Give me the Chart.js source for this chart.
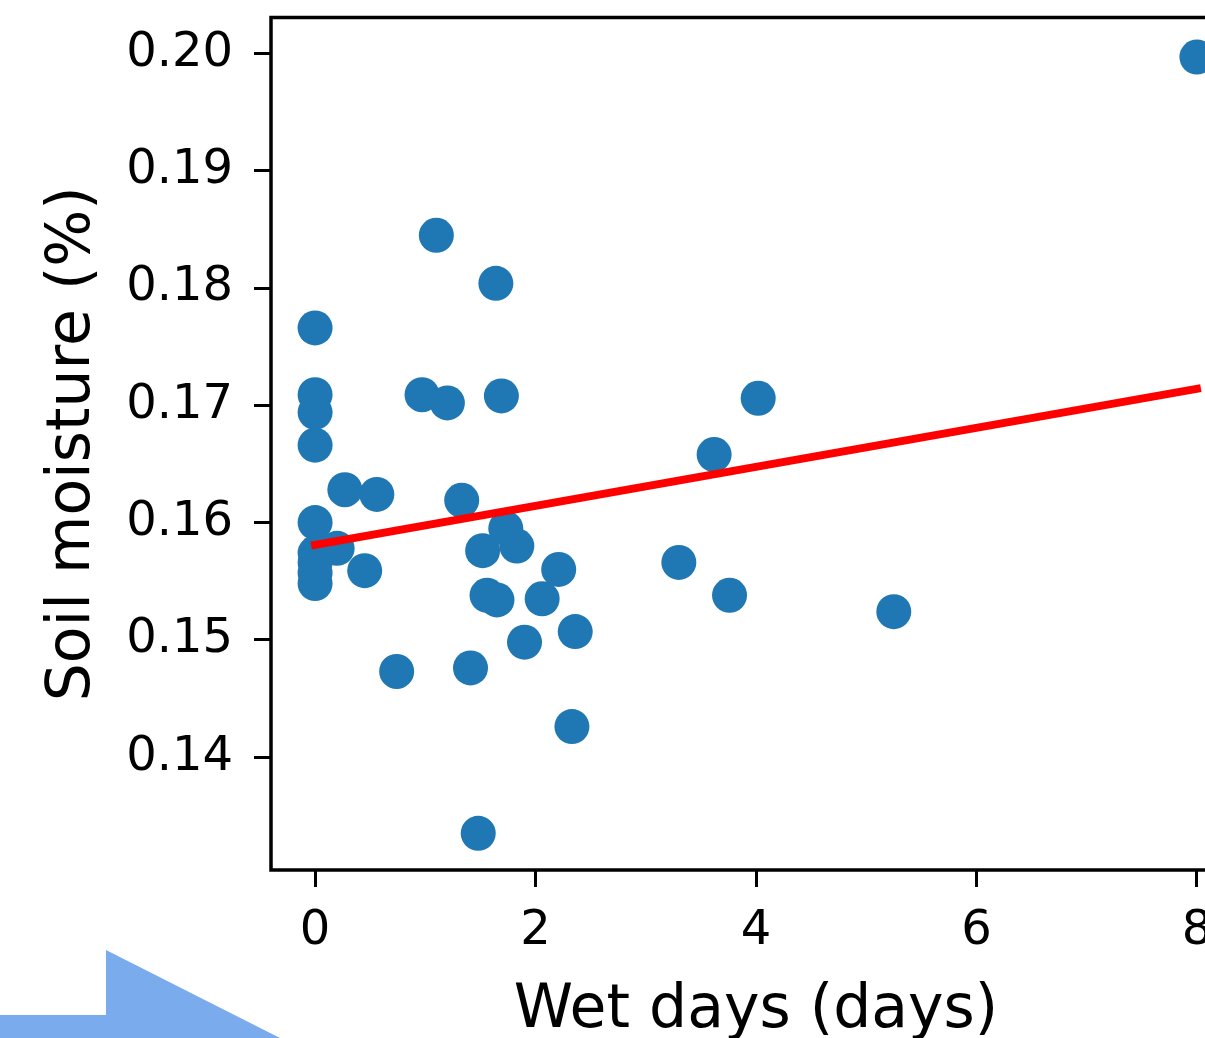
<!DOCTYPE html>
<html>
<head>
<meta charset="utf-8">
<script src="https://cdn.jsdelivr.net/npm/chart.js@4.4.1/dist/chart.umd.min.js"></script>
<style>
  html, body { margin: 0; padding: 0; background: #fff; overflow: hidden; width: 1205px; height: 1038px; }
  #wrap { position: absolute; left: 0; top: 0; width: 1300px; height: 1038px; }
  #arrow { position: absolute; left: 0; top: 0; width: 1205px; height: 1038px; pointer-events: none; }
</style>
</head>
<body>
<div id="wrap"><canvas id="c" width="1300" height="1038"></canvas></div>
<svg id="arrow" width="1205" height="1038"><polygon points="0,1015 106,1015 106,950 280,1038 0,1038" fill="rgb(122,171,236)"/></svg>
<script>
// Data
const wetDays = [0, 0, 0, 0, 0, 0, 0, 0, 0, 0.20, 0.27, 0.56, 0.45, 0.74, 1.41, 1.48, 1.33, 1.52, 1.73, 1.83, 1.56, 1.65, 2.06, 2.21, 1.90, 2.36, 2.33, 1.10, 1.64, 0.97, 1.20, 1.69, 3.30, 3.76, 3.62, 4.02, 5.25, 8.00];
const soilMoisture = [0.1766, 0.1709, 0.1694, 0.1666, 0.1600, 0.1574, 0.1566, 0.1557, 0.1548, 0.1578, 0.1628, 0.1624, 0.1559, 0.1473, 0.1476, 0.1335, 0.1619, 0.1576, 0.1595, 0.1580, 0.1538, 0.1534, 0.1535, 0.1560, 0.1498, 0.1507, 0.1426, 0.1845, 0.1804, 0.1709, 0.1702, 0.1708, 0.1566, 0.1538, 0.1658, 0.1706, 0.1524, 0.1997];
const fitX = [0, 8];
const fitY = [0.1581, 0.1714];
const xTicks = [0, 2, 4, 6, 8];
const yTicks = [0.14, 0.15, 0.16, 0.17, 0.18, 0.19, 0.20];
const xLabel = 'Wet days (days)';
const yLabel = 'Soil moisture (%)';

const scatterData = wetDays.map((x, i) => ({ x: x, y: soilMoisture[i] }));
const lineData = fitX.map((x, i) => ({ x: x, y: fitY[i] }));

const framePlugin = {
  id: 'frame',
  afterDatasetsDraw(chart) {
    const { ctx, chartArea: a } = chart;
    ctx.save();
    ctx.strokeStyle = '#000';
    ctx.lineWidth = 3.5;
    ctx.strokeRect(a.left, a.top, a.right - a.left, a.bottom - a.top);
    ctx.restore();
  }
};

const tickFont = { family: 'DejaVu Sans', size: 48 };
const xTitleFont = { family: 'DejaVu Sans', size: 60, lineHeight: 0.9 };
const yTitleFont = { family: 'DejaVu Sans', size: 60, lineHeight: 1 };

new Chart(document.getElementById('c'), {
  type: 'scatter',
  data: {
    datasets: [
      {
        type: 'line',
        data: lineData,
        borderColor: '#ff0000',
        borderWidth: 8,
        borderCapStyle: 'square',
        pointRadius: 0,
        fill: false,
        order: 0
      },
      {
        type: 'scatter',
        data: scatterData,
        backgroundColor: '#1f77b4',
        borderWidth: 0,
        pointRadius: 17.5,
        pointHoverRadius: 17.5,
        order: 1
      }
    ]
  },
  options: {
    responsive: false,
    animation: false,
    events: [],
    layout: { padding: { left: 0, top: 17, right: 59, bottom: 0 } },
    plugins: { legend: { display: false }, tooltip: { enabled: false } },
    scales: {
      x: {
        type: 'linear',
        min: -0.4,
        max: 8.4,
        afterBuildTicks(scale) { scale.ticks = xTicks.map(v => ({ value: v })); },
        afterFit(scale) { scale.height = 168; scale.paddingLeft = 0; scale.paddingRight = 0; },
        grid: { display: true, drawOnChartArea: false, drawTicks: true, tickLength: 17, tickWidth: 3, tickColor: '#000' },
        border: { display: false },
        ticks: { color: '#000', font: tickFont, padding: 16, maxRotation: 0, autoSkip: false },
        title: { display: true, text: xLabel, color: '#000', font: xTitleFont, padding: { top: 0, bottom: 0 } }
      },
      y: {
        type: 'linear',
        min: 0.13037,
        max: 0.20307,
        afterBuildTicks(scale) { scale.ticks = yTicks.map(v => ({ value: v })); },
        afterFit(scale) { scale.width = 271; scale.paddingTop = 0; scale.paddingBottom = 0; },
        grid: { display: true, drawOnChartArea: false, drawTicks: true, tickLength: 17, tickWidth: 3, tickColor: '#000' },
        border: { display: false },
        ticks: { color: '#000', font: tickFont, padding: 21, autoSkip: false, callback: v => Number(v).toFixed(2) },
        title: { display: true, text: yLabel, color: '#000', font: yTitleFont, padding: { top: 43, bottom: 0 } }
      }
    }
  },
  plugins: [framePlugin]
});
</script>
</body>
</html>
